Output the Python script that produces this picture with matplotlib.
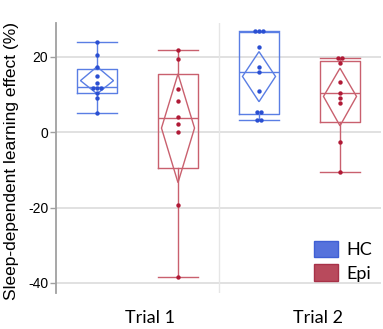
import matplotlib
matplotlib.use("Agg")
import matplotlib.pyplot as plt
from matplotlib.patches import Polygon, Patch
import numpy as np

# ---------------- data ----------------
trials = ["Trial 1", "Trial 2"]
groups = ["HC", "Epi"]

hc_t1 = [24.0, 20.5, 17.4, 15.0, 13.0, 11.7, 11.7, 11.7, 10.3, 9.0, 5.0]
epi_t1 = [21.8, 19.5, 11.4, 8.3, 4.0, 2.2, 0.0, -19.3, -38.5]
hc_t2 = [26.9, 26.9, 26.9, 22.7, 17.2, 16.1, 11.0, 5.3, 5.3, 3.3, 3.3]
epi_t2 = [19.6, 19.6, 18.3, 13.4, 10.5, 9.2, 7.7, -2.7, -10.7]

# box statistics (order: HC T1, Epi T1, HC T2, Epi T2)
whis_lo = [5.0, -38.5, 3.3, -10.7]
q1 = [10.5, -9.6, 4.9, 2.6]
median = [12.1, 3.7, 15.9, 10.3]
q3 = [16.7, 15.4, 26.5, 18.8]
whis_hi = [24.0, 21.8, 27.0, 19.6]
mean = [13.7, 1.1, 14.8, 9.5]
ci_lo = [10.2, -13.4, 8.1, 1.7]
ci_hi = [17.4, 15.5, 21.4, 17.0]

yticks = [20, 0, -20, -40]
ylabel = "Sleep-dependent learning effect (%)"

# ---------------- style ----------------
box_col = {"HC": "#5a7ee4", "Epi": "#c9606e"}
pt_col = {"HC": "#2a4fd2", "Epi": "#b01a36"}
leg_face = {"HC": "#5672dc", "Epi": "#b84a5c"}
leg_edge = {"HC": "#3f5fd4", "Epi": "#a83248"}

W, H = 383, 329
fig = plt.figure(figsize=(W / 100, H / 100), dpi=100)
ax = fig.add_axes([56.5 / W, 1 - 293 / H, (380.5 - 56.5) / W, (293 - 23) / H])

series = [("HC", 0, hc_t1), ("Epi", 0, epi_t1), ("HC", 1, hc_t2), ("Epi", 1, epi_t2)]
offset = {"HC": -0.25, "Epi": 0.25}
bw = 0.25
dw = 0.204

for i, (g, t, vals) in enumerate(series):
    x = t + offset[g]
    c = box_col[g]
    stats = [dict(med=median[i], q1=q1[i], q3=q3[i], whislo=whis_lo[i], whishi=whis_hi[i])]
    lp = dict(color=c, linewidth=1.0)
    ax.bxp(stats, positions=[x], widths=bw, capwidths=bw, showfliers=False,
           boxprops=lp, whiskerprops=lp, capprops=lp, medianprops=lp,
           manage_ticks=False, zorder=3)
    diamond = Polygon([(x, ci_hi[i]), (x + dw / 2, mean[i]), (x, ci_lo[i]), (x - dw / 2, mean[i])],
                      closed=True, fill=False, edgecolor=c, linewidth=1.0, zorder=3)
    ax.add_patch(diamond)
    # spread identical values horizontally
    vals = np.array(vals)
    xs = np.full(len(vals), x, dtype=float)
    for v in np.unique(vals):
        idx = np.where(vals == v)[0]
        n = len(idx)
        xs[idx] = x + (np.arange(n) - (n - 1) / 2) * 0.025
    ax.scatter(xs, vals, s=10, color=pt_col[g], zorder=4, linewidths=0)

ax.set_xlim(-0.5, 1.5)
ax.set_ylim(-42.7, 29.0)
ax.set_yticks(yticks)
ax.set_yticklabels([str(v) for v in yticks], family="Liberation Sans", fontsize=10)
ax.set_xticks([0.077, 1.117])
ax.set_xticklabels(trials, family="Lato", fontsize=13)
ax.tick_params(axis="x", length=0, pad=12)
ax.tick_params(axis="y", length=4, width=1, color="#a0a0a0", pad=2)

for y in yticks:
    ax.axhline(y, color="#dedede", linewidth=1.3, zorder=1)
ax.axvline(0.5, color="#e6e6e6", linewidth=1.0, zorder=1)

for s in ["top", "right", "bottom"]:
    ax.spines[s].set_visible(False)
ax.spines["left"].set_color("#a0a0a0")
ax.spines["left"].set_linewidth(1.3)

ax.set_ylabel(ylabel, family="Liberation Sans", fontsize=12.5)
ax.yaxis.set_label_coords(-0.116, 0.489)

handles = [Patch(facecolor=leg_face[g], edgecolor=leg_edge[g], linewidth=1.0, label=g) for g in groups]
leg = ax.legend(handles=handles, loc="lower right", bbox_to_anchor=(372 / W, 1 - 282 / H),
                bbox_transform=fig.transFigure, frameon=False, prop=dict(family="Lato", size=13),
                handlelength=1.35, handleheight=1.05, handletextpad=0.45, labelspacing=0.35,
                borderpad=0, borderaxespad=0)

fig.savefig("out.png", dpi=100)
